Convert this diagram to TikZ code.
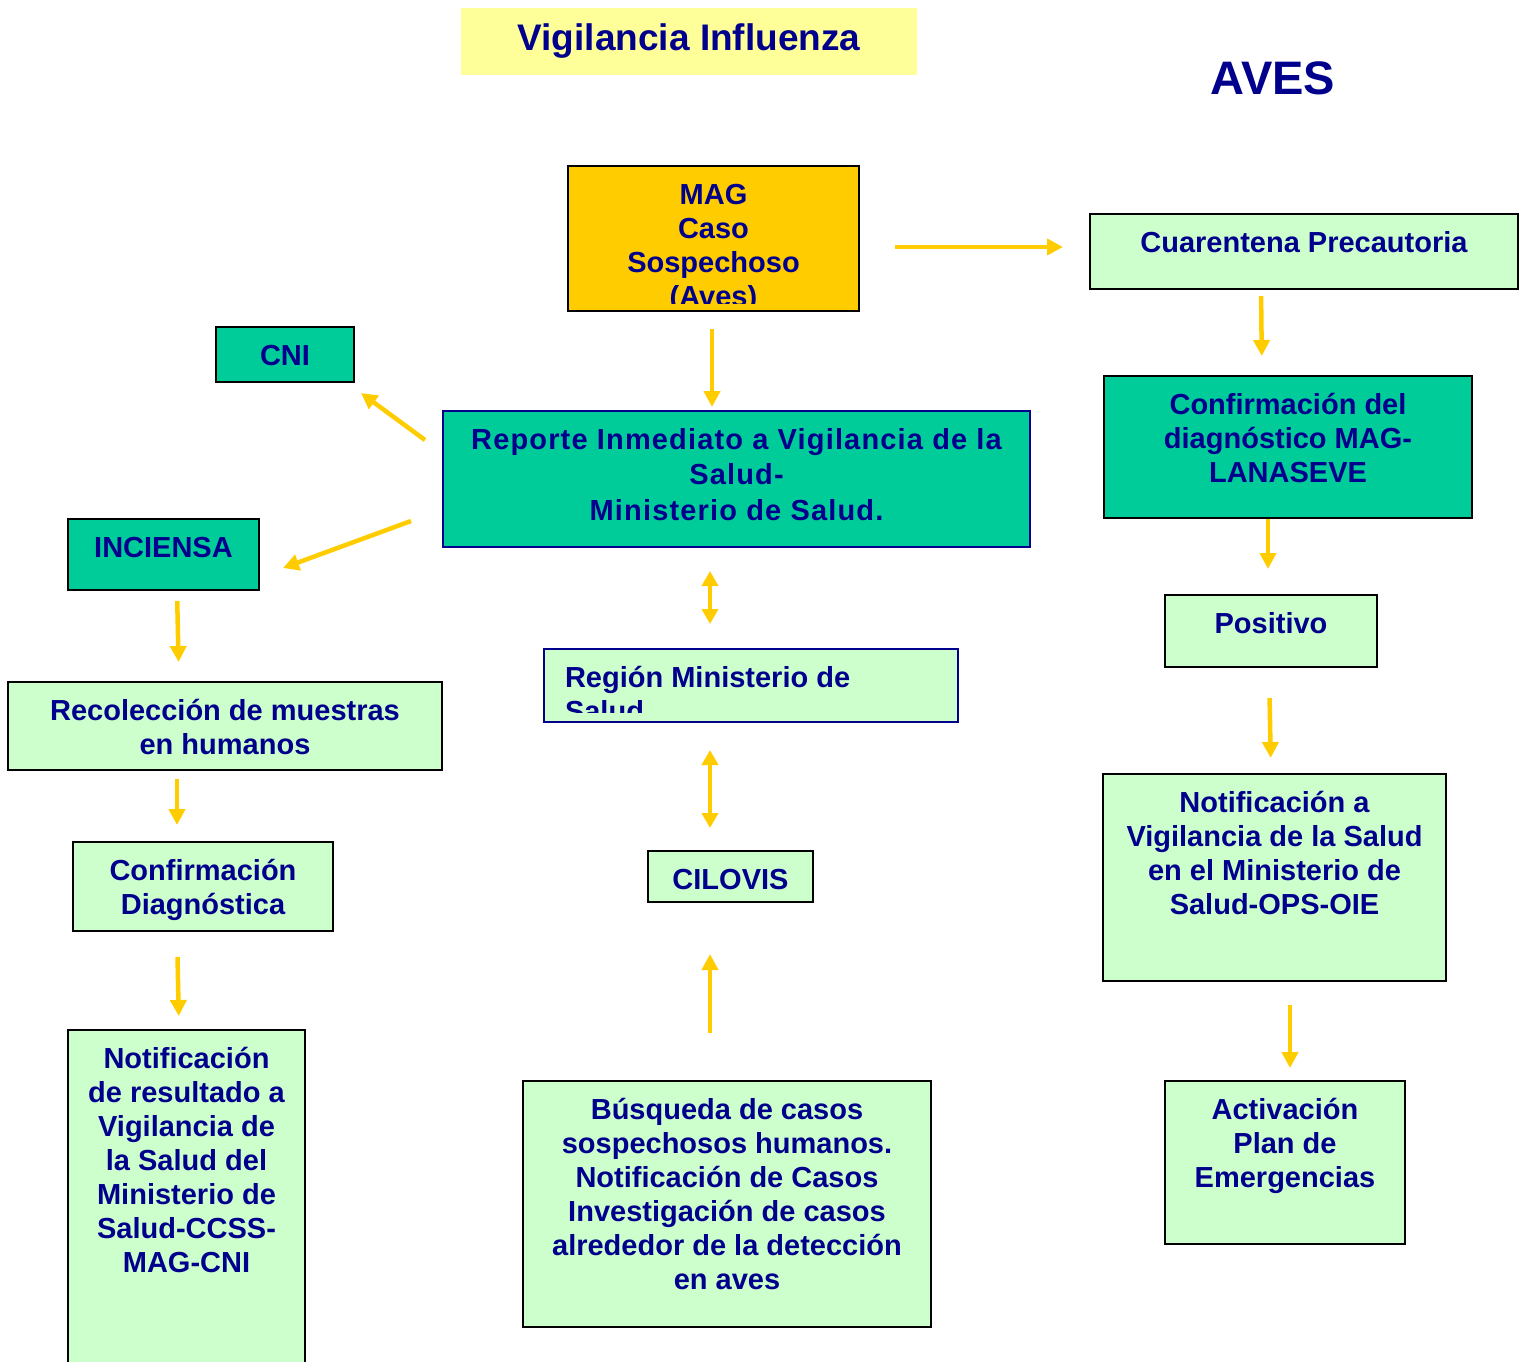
\documentclass[tikz,border=0pt]{standalone}
\usepackage{fontspec}
\setmainfont{Liberation Sans}
\usetikzlibrary{arrows.meta}

\definecolor{navy}{RGB}{0,0,140}
\definecolor{tealbox}{RGB}{0,204,153}
\definecolor{palegreen}{RGB}{204,255,204}
\definecolor{gold}{RGB}{255,204,0}
\definecolor{paleyellow}{RGB}{255,255,153}

% text hangs from the top of a box of fixed size
\newcommand{\boxtext}[3]{\parbox[t][#2][t]{#1}{\centering\rule{0pt}{38pt}#3}}

\begin{document}
\begin{tikzpicture}[x=1pt,y=-1pt,
		font=\fontsize{29}{34}\selectfont\bfseries, text=navy,
		box/.style={draw=black, line width=2.5pt, inner sep=0pt, outer sep=0pt, anchor=north west},
		tbox/.style={box, fill=tealbox},
		gbox/.style={box, fill=palegreen},
		arr/.style={draw=gold, line width=4.5pt, -{Triangle[length=16pt,width=16pt]}},
		darr/.style={draw=gold, line width=4.5pt, {Triangle[length=15pt,width=16pt]}-{Triangle[length=15pt,width=16pt]}}]
	
	\useasboundingbox (0,0) rectangle (1526,1361);
	
	\node[fill=paleyellow, minimum width=456pt, minimum height=67pt, font=\fontsize{37}{40}\selectfont\bfseries] (title) at (689,41.5) {Vigilancia Influenza};
	\node[font=\fontsize{47}{50}\selectfont\bfseries] (aves) at (1273,78) {AVES};
	
	\node[box, fill=gold, minimum width=291pt, minimum height=145pt, path picture={
			\clip (path picture bounding box.north west) rectangle ([yshift=8pt]path picture bounding box.south east);
			\node[anchor=north west, inner sep=0pt] (magtext) at (path picture bounding box.north west) {\boxtext{291pt}{145pt}{MAG\\Caso\\Sospechoso\\(Aves)}};
		}] (mag) at (568,166) {};
	\node[gbox] (cua) at (1090,214) {\boxtext{428pt}{75pt}{Cuarentena Precautoria}};
	\node[tbox] (cni) at (216,327) {\boxtext{138pt}{55pt}{CNI}};
	\node[tbox, draw=navy, line width=2pt] (rep) at (443,411) {\boxtext{587pt}{136pt}{\addfontfeatures{LetterSpace=4}\fontsize{29}{35.5}\selectfont Reporte Inmediato a Vigilancia de la\\Salud-\\Ministerio de Salud.}};
	\node[tbox] (inc) at (68,519) {\boxtext{191pt}{71pt}{INCIENSA}};
	\node[tbox] (confd) at (1104,376) {\boxtext{368pt}{142pt}{Confirmación del\\diagnóstico MAG-\\LANASEVE}};
	\node[gbox] (pos) at (1165,595) {\boxtext{212pt}{72pt}{Positivo}};
	\node[gbox, draw=navy, line width=2pt, minimum width=414pt, minimum height=73pt, path picture={
			\clip (path picture bounding box.north west) rectangle ([yshift=10pt]path picture bounding box.south east);
			\node[anchor=north west, inner sep=0pt] (regtext) at (path picture bounding box.north west) {\parbox[t][73pt][t]{414pt}{\raggedright\leftskip=21pt\rule{0pt}{38pt}Región Ministerio de\\Salud}};
		}] (reg) at (544,649) {};
	\node[gbox] (rec) at (8,682) {\boxtext{434pt}{88pt}{Recolección de muestras\\en humanos}};
	\node[gbox] (conf) at (73,842) {\boxtext{260pt}{89pt}{Confirmación\\Diagnóstica}};
	\node[gbox] (cil) at (648,851) {\boxtext{165pt}{51pt}{CILOVIS}};
	\node[gbox] (noti) at (1103,774) {\boxtext{343pt}{207pt}{Notificación a\\Vigilancia de la Salud\\en el Ministerio de\\Salud-OPS-OIE}};
	\node[gbox] (notr) at (68,1030) {\boxtext{237pt}{345pt}{Notificación\\de resultado a\\Vigilancia de\\la Salud del\\Ministerio de\\Salud-CCSS-\\MAG-CNI}};
	\node[gbox] (bus) at (523,1081) {\boxtext{408pt}{246pt}{Búsqueda de casos\\sospechosos humanos.\\Notificación de Casos\\Investigación de casos\\alrededor de la detección\\en aves}};
	\node[gbox] (act) at (1165,1081) {\boxtext{240pt}{163pt}{Activación\\Plan de\\Emergencias}};
	
	\draw[arr, shorten <=18pt, shorten >=4pt] ([xshift=-1.5pt]mag.south) -- ([xshift=-1.5pt]mag.south |- rep.north);
	\draw[arr, shorten <=36pt, shorten >=27pt] ([yshift=-8.5pt]mag.east) -- ([yshift=4.5pt]cua.west);
	\draw[arr] ([shift={(-18pt,39pt)}]rep.west) -- ([shift={(7pt,-11pt)}]cni.south east);
	\draw[arr] ([shift={(-32pt,-42pt)}]rep.west) -- ([shift={(24pt,-13.5pt)}]inc.east);
	\draw[darr, shorten <=24pt, shorten >=25pt] ([xshift=-26.5pt]rep.south) -- ([xshift=-26.5pt]rep.south |- reg.north);
	\draw[darr, shorten <=28pt, shorten >=23pt] ([xshift=-20.5pt]cil.north |- reg.south) -- ([xshift=-20.5pt]cil.north);
	\draw[arr, shorten <=48pt, shorten >=52pt] ([xshift=-17pt]bus.north) -- ([xshift=-17pt]bus.north |- cil.south);
	
	\draw[arr, shorten <=11pt, shorten >=20pt] ([xshift=13.5pt]inc.south) -- ([xshift=-46pt]rec.north);
	\draw[arr, shorten <=9pt, shorten >=17pt] ([xshift=-48pt]rec.south) -- ([xshift=-26pt]conf.north);
	\draw[arr, shorten <=26pt, shorten >=14pt] ([xshift=-26pt]conf.south) -- ([xshift=-7.5pt]notr.north);
	
	\draw[arr, shorten <=7pt, shorten >=20pt] ([xshift=-43pt]cua.south) -- ([xshift=-26pt]confd.north);
	\draw[arr, shorten <=1pt, shorten >=26pt] ([xshift=-20pt]confd.south) -- ([xshift=-3pt]pos.north);
	\draw[arr, shorten <=31pt, shorten >=16pt] ([xshift=-2pt]pos.south) -- ([xshift=-3.5pt]noti.north);
	\draw[arr, shorten <=24pt, shorten >=13pt] ([xshift=15.5pt]noti.south) -- ([xshift=5pt]act.north);
\end{tikzpicture}
\end{document}
